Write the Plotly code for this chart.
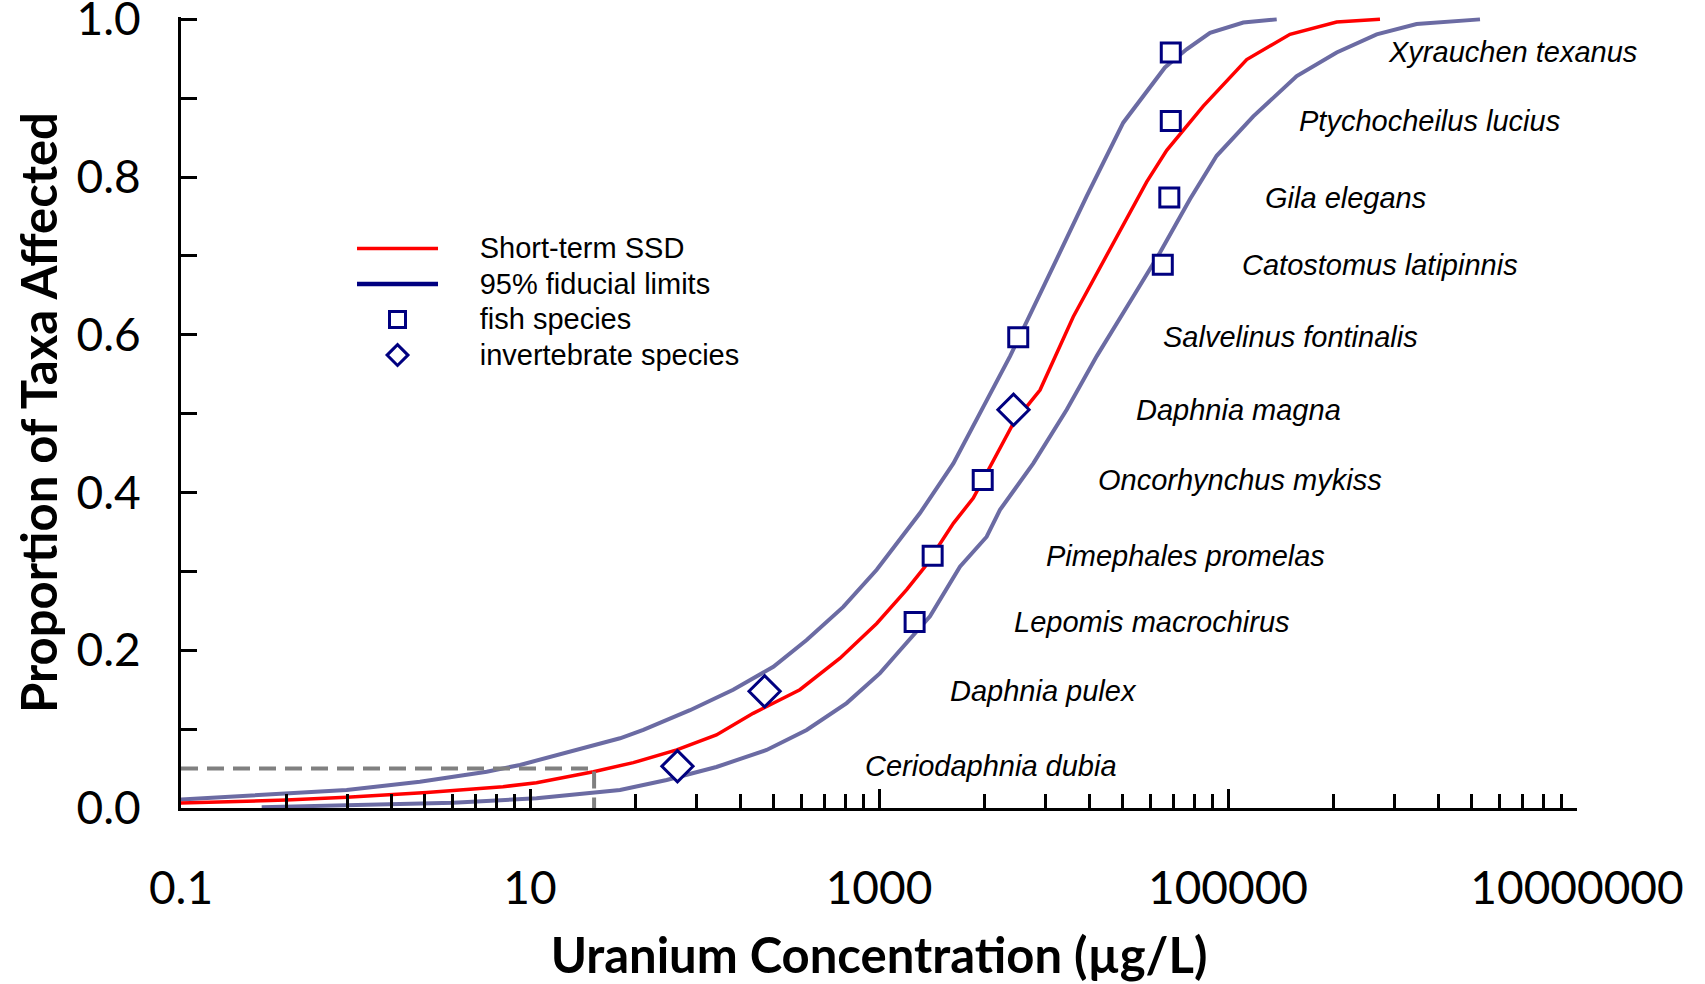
import plotly.graph_objects as go

# ---------------- data ----------------
ssd_conc = [0.087, 0.40, 0.89, 2.56, 7.0, 10.9, 23.1, 39.1, 69.3, 117, 190, 352, 598, 970,
            1441, 1835, 2668, 3470, 5890, 8370, 12980, 20180, 34200, 44550, 72150,
            128000, 226600, 419600, 743000]
ssd_prop = [0.006, 0.010, 0.0135, 0.0195, 0.027, 0.032, 0.046, 0.0575, 0.0736, 0.0926, 0.120,
            0.150, 0.190, 0.234, 0.277, 0.306, 0.361, 0.393, 0.488, 0.530, 0.623, 0.700,
            0.794, 0.834, 0.890, 0.949, 0.981, 0.9966, 1.0]

upper_conc = [0.087, 0.40, 0.89, 2.34, 5.65, 8.77, 16.9, 32.8, 44.6, 82.6, 146, 248, 385, 624,
              970, 1718, 2668, 3790, 5640, 9980, 15500, 25100, 35700, 43500, 57900, 78900,
              122400, 190200]
upper_prop = [0.010, 0.0186, 0.0228, 0.0334, 0.046, 0.0546, 0.0714, 0.0884, 0.099, 0.124, 0.150,
              0.179, 0.213, 0.255, 0.302, 0.374, 0.437, 0.50, 0.573, 0.687, 0.776, 0.869,
              0.915, 0.939, 0.962, 0.983, 0.996, 1.0]

lower_conc = [0.29, 1.21, 3.63, 10.9, 32.8, 60.7, 117, 227, 385, 653, 1014, 1320, 1960, 2910,
              4140, 4935, 7660, 11900, 17700, 28700, 40700, 60500, 86100, 139600, 247700,
              419600, 711500, 1205000, 2780000]
lower_prop = [0.001, 0.004, 0.0067, 0.0123, 0.0228, 0.0355, 0.052, 0.0736, 0.099, 0.133, 0.171,
              0.200, 0.243, 0.306, 0.344, 0.378, 0.437, 0.505, 0.573, 0.649, 0.704, 0.772,
              0.827, 0.877, 0.928, 0.958, 0.981, 0.994, 1.0]

species = ["Ceriodaphnia dubia", "Daphnia pulex", "Lepomis macrochirus", "Pimephales promelas",
           "Oncorhynchus mykiss", "Daphnia magna", "Salvelinus fontinalis",
           "Catostomus latipinnis", "Gila elegans", "Ptychocheilus lucius", "Xyrauchen texanus"]
species_group = ["invertebrate", "invertebrate", "fish", "fish", "fish", "invertebrate", "fish",
                 "fish", "fish", "fish", "fish"]
species_conc = [70, 221, 1600, 2030, 3930, 5900, 6280, 42300, 46100, 47000, 47000]
species_prop = [0.053, 0.148, 0.236, 0.320, 0.416, 0.505, 0.597, 0.689, 0.774, 0.871, 0.958]

hc5_conc = 23.3
hc5_prop = 0.05
axis_min_conc = 0.1

x_tick_vals = [0.1, 10, 1000, 100000, 10000000]
x_tick_text = ["0.1", "10", "1000", "100000", "10000000"]
y_tick_vals = [0, 0.2, 0.4, 0.6, 0.8, 1.0]
y_tick_text = ["0.0", "0.2", "0.4", "0.6", "0.8", "1.0"]

# label positions (log10 of x where each species name starts)
label_x_log = [2.908, 3.395, 3.762, 3.946, 4.244, 4.461, 4.616, 5.069, 5.201, 5.395, 5.905]

# ---------------- figure ----------------
LIM = "#6B6BA3"
NAVY = "#000080"
PAD = '<span style="font-size:33px">&nbsp;&nbsp;&nbsp;&nbsp;</span>'


def leg(text):
    return PAD + '<span style="font-size:29px">' + text + '</span>'


fig = go.Figure()
fig.add_trace(go.Scatter(x=upper_conc, y=upper_prop, mode="lines",
                         line=dict(color=LIM, width=4), showlegend=False, hoverinfo="skip"))
fig.add_trace(go.Scatter(x=lower_conc, y=lower_prop, mode="lines",
                         line=dict(color=LIM, width=4), showlegend=False, hoverinfo="skip"))
fig.add_trace(go.Scatter(x=ssd_conc, y=ssd_prop, mode="lines", name=leg("Short-term SSD"),
                         line=dict(color="#FF0000", width=3.5)))
fig.add_trace(go.Scatter(x=[None], y=[None], mode="lines", name=leg("95% fiducial limits"),
                         line=dict(color=NAVY, width=4.5)))
fig.add_trace(go.Scatter(x=[axis_min_conc, hc5_conc, hc5_conc], y=[hc5_prop, hc5_prop, 0],
                         mode="lines", line=dict(color="#808080", width=4, dash="17px,9px"),
                         showlegend=False))

fx = [c for c, g in zip(species_conc, species_group) if g == "fish"]
fy = [p for p, g in zip(species_prop, species_group) if g == "fish"]
ix = [c for c, g in zip(species_conc, species_group) if g == "invertebrate"]
iy = [p for p, g in zip(species_prop, species_group) if g == "invertebrate"]

fig.add_trace(go.Scatter(x=fx, y=fy, mode="markers", name=leg("fish species"),
                         marker=dict(symbol="square", size=19, color="white",
                                     line=dict(color=NAVY, width=3)), cliponaxis=False))
fig.add_trace(go.Scatter(x=ix, y=iy, mode="markers", name=leg("invertebrate species"),
                         marker=dict(symbol="diamond", size=24, color="white",
                                     line=dict(color=NAVY, width=3)), cliponaxis=False))

for name, lx, p in zip(species, label_x_log, species_prop):
    fig.add_annotation(x=lx, y=p, xref="x", yref="y", text=name, showarrow=False,
                       xanchor="left", yanchor="middle",
                       font=dict(family="Liberation Sans, Arial", size=29, color="black",
                                 style="italic"))

minor_vals = [b * k * k for b in [0.1, 10, 1000, 100000] for k in range(2, 10)]

fig.update_xaxes(type="log", range=[-1, 7], tickmode="array", tickvals=x_tick_vals,
                 ticktext=x_tick_text, ticks="inside", ticklen=19, tickwidth=3,
                 tickcolor="black", showline=True, linewidth=3, linecolor="black",
                 showgrid=False, zeroline=False, ticklabelstandoff=38,
                 ticklabeloverflow="allow",
                 tickfont=dict(family="Lato", size=46, color="black"),
                 minor=dict(tickmode="array", tickvals=minor_vals, ticks="inside", ticklen=14,
                            tickwidth=3, tickcolor="black", showgrid=False),
                 title=dict(text="Uranium Concentration (µg/L)", standoff=26,
                            font=dict(family="Lato", size=49, color="black", weight="bold")))
fig.update_yaxes(range=[0, 1.003], tickmode="array", tickvals=y_tick_vals,
                 ticktext=y_tick_text, ticks="inside",
                 ticklen=16, tickwidth=3, tickcolor="black", showline=True, linewidth=3,
                 linecolor="black", showgrid=False, zeroline=False, ticklabelstandoff=28,
                 ticklabeloverflow="allow",
                 tickfont=dict(family="Lato", size=46, color="black"),
                 minor=dict(dtick=0.1, ticks="inside", ticklen=16, tickwidth=3,
                            tickcolor="black", showgrid=False),
                 title=dict(text="Proportion of Taxa Affected", standoff=4,
                            font=dict(family="Lato", size=49, color="black", weight="bold")))

fig.update_layout(
    width=1705, height=984,
    margin=dict(l=181, r=128, t=17, b=176, autoexpand=False),
    paper_bgcolor="white", plot_bgcolor="white",
    showlegend=True,
    legend=dict(x=0.1225, y=0.736, xanchor="left", yanchor="top", bgcolor="rgba(0,0,0,0)",
                font=dict(family="Liberation Sans, Arial", size=25, color="black"),
                tracegroupgap=0, itemwidth=81),
)

fig.write_html("out.html",
               config={"displayModeBar": False},
               post_script="document.body.style.margin='0px';"
                           "document.body.style.overflow='hidden';")
